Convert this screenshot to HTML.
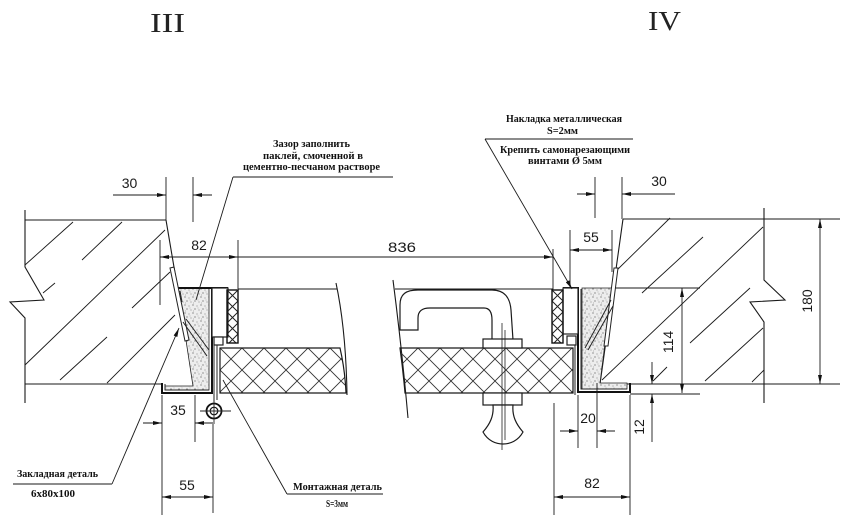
<!DOCTYPE html>
<html><head><meta charset="utf-8"><style>
html,body{margin:0;padding:0;background:#fff;}
svg{display:block;}
.d{font-family:"Liberation Sans",sans-serif;font-size:14px;fill:#1a1a1a;}
.l{font-family:"Liberation Serif","Noto Serif CJK SC",serif;font-weight:bold;font-size:10.5px;fill:#111;}
.t{font-family:"Liberation Serif",serif;font-size:27px;fill:#222;}
</style></head><body>
<svg width="844" height="523" viewBox="0 0 844 523" xmlns="http://www.w3.org/2000/svg">
<defs>
<marker id="a" viewBox="0 0 9 4" refX="9" refY="2" markerWidth="9" markerHeight="4" markerUnits="userSpaceOnUse" orient="auto-start-reverse"><path d="M0,0 L9,2 L0,4z" fill="#111"/></marker>
<pattern id="xh" x="0" y="348" width="22" height="22" patternUnits="userSpaceOnUse"><path d="M0,0 L22,22 M22,0 L0,22" stroke="#333" stroke-width="0.9" fill="none"/></pattern>
<pattern id="xs1" x="227" y="290" width="11" height="11" patternUnits="userSpaceOnUse"><path d="M0,0 L11,11 M11,0 L0,11" stroke="#222" stroke-width="1" fill="none"/></pattern>
<pattern id="xs2" x="552" y="290" width="11" height="11" patternUnits="userSpaceOnUse"><path d="M0,0 L11,11 M11,0 L0,11" stroke="#222" stroke-width="1" fill="none"/></pattern>
<pattern id="st" width="8" height="8" patternUnits="userSpaceOnUse"><rect width="8" height="8" fill="#ededed"/><circle cx="1" cy="1" r=".6" fill="#555"/><circle cx="5" cy="2" r=".5" fill="#666"/><circle cx="3" cy="5" r=".6" fill="#555"/><circle cx="7" cy="6" r=".5" fill="#666"/><circle cx="6" cy="4" r=".4" fill="#777"/><circle cx="1.5" cy="7" r=".4" fill="#666"/></pattern>
</defs>

<!-- Titles -->
<text class="t" x="150" y="32" textLength="35" lengthAdjust="spacingAndGlyphs">III</text>
<text class="t" x="648" y="30" textLength="33" lengthAdjust="spacingAndGlyphs">IV</text>

<g stroke="#1a1a1a" stroke-width="1.1" fill="none">
<!-- LEFT WALL -->
<path d="M25,220 L166,220 M166,220 L194,385 M25,384 L162,384"/>
<path d="M25,210 L25,267 L44,300 L10,302 L25,318 L25,403"/>
<g stroke-width="0.9">
<path d="M25,265 L73,222 M82,260 L122,222 M25,365 L165,230 M132,308 L170,272 M60,380 L107,337 M107,383 L175,315 M43,293 L55,283"/>
</g>
<!-- RIGHT WALL -->
<path d="M623,219 L840,219 M623,219 L600,384 M600,384 L840,384 M612,288 L700,288 M630,394 L700,394"/>
<path d="M764,208 L764,280 L785,300 L750,302 L764,322 L764,403"/>
<g stroke-width="0.9">
<path d="M615,272 L670,218 M642,293 L703,237 M602,380 L763,227 M690,343 L750,288 M705,381 L763,328 M752,382 L764,370 M653,381 L667,367"/>
</g>

<!-- upper frame lines -->
<path d="M238,289 L337,289 M395,289 L553,289"/>
<!-- break lines -->
<path d="M336,283 Q346,330 347,395"/>
<path d="M393,280 Q402,350 408,418"/>
</g>

<!-- LEFT LEAF -->
<path d="M220,348 L340,348 Q345,370 346,393 L220,393 Z" fill="url(#xh)" stroke="#1a1a1a" stroke-width="1.2"/>
<!-- RIGHT LEAF -->
<path d="M400,348 L573,348 L573,393 L405,393 Q403,370 400,348 Z" fill="url(#xh)" stroke="#1a1a1a" stroke-width="1.2"/>

<!-- Handle -->
<g stroke="#1a1a1a" stroke-width="1.2" fill="#fff">
<path d="M400,330 L400,305 C400,294 406,290 418,290 L492,290 C505,290 510,298 511,310 L513,340 L492,340 L492,320 C492,313 490,308 484,308 L430,308 C422,308 418,311 418,318 L418,330 Z"/>
<rect x="483" y="339" width="39" height="9"/>
<rect x="483" y="393" width="39" height="12"/>
<path d="M493,405 C494,416 490,424 483,432 C488,441 496,444 503,444 C510,444 518,441 523,432 C516,424 512,416 513,405 Z"/>
</g>
<path d="M502,323 L502,450 M505,330 L505,440" stroke="#222" stroke-width="0.8" fill="none"/>

<!-- LEFT FRAME -->
<path d="M178,288 L209,288 L209,390 L165,390 L165,386 L193,386 Z" fill="url(#st)" stroke="#222" stroke-width="0.8"/>
<path d="M162,383 L162,393 L212,393 L212,288 M178,288 L228,288" stroke="#111" stroke-width="2" fill="none"/>
<path d="M165,384 L165,390 L209,390" stroke="#222" stroke-width="1" fill="none"/>
<polygon points="170,268 174,267 189,340 185,341" fill="#fff" stroke="#222" stroke-width="1"/>
<path d="M180,291 L182,302 M183,322 L207,356 M186,319 L209,350" stroke="#222" stroke-width="1" fill="none"/>
<rect x="212" y="288" width="16" height="49" fill="#fff" stroke="#222" stroke-width="1.2"/>
<rect x="214" y="337" width="9" height="8" fill="#fff" stroke="#222" stroke-width="1.2"/>
<rect x="227" y="290" width="11" height="53" fill="url(#xs1)" stroke="#111" stroke-width="1.4"/>
<path d="M214,345 L214,402 M217,345 L217,400" stroke="#222" stroke-width="1" fill="none"/>
<!-- hinge -->
<circle cx="214" cy="411" r="7.5" fill="#fff" stroke="#111" stroke-width="1.8"/>
<circle cx="214" cy="411" r="3.8" fill="none" stroke="#111" stroke-width="1.2"/>
<path d="M200,411 L231,411 M214,398 L214,424" stroke="#222" stroke-width="0.9"/>

<!-- RIGHT FRAME -->
<path d="M582,288 L612,288 L600,383 L627,383 L627,389 L582,389 Z" fill="url(#st)" stroke="#222" stroke-width="0.8"/>
<path d="M563,288 L578,288 L578,392 L630,392 L630,383" stroke="#111" stroke-width="2" fill="none"/>
<path d="M581,289 L581,389 L627,389" stroke="#222" stroke-width="1" fill="none"/>
<polygon points="614,268 618,268 608,346 604,346" fill="#fff" stroke="#222" stroke-width="1"/>
<path d="M611,300 L585,348 M613,306 L588,350" stroke="#222" stroke-width="1" fill="none"/>
<rect x="563" y="288" width="15" height="46" fill="#fff" stroke="#222" stroke-width="1.2"/>
<rect x="567" y="336" width="9" height="9" fill="#fff" stroke="#222" stroke-width="1.2"/>
<rect x="552" y="290" width="11" height="53" fill="url(#xs2)" stroke="#111" stroke-width="1.4"/>
<path d="M575,345 L575,395" stroke="#222" stroke-width="1" fill="none"/>

<!-- DIMENSIONS -->
<g stroke="#1a1a1a" stroke-width="0.9" fill="none">
<!-- 30 left -->
<path d="M166,177 L166,220 M193,177 L193,222"/>
<path d="M113,195 L166,195" marker-end="url(#a)"/>
<path d="M212,195 L193,195" marker-end="url(#a)"/>
<!-- 82 / 836 -->
<path d="M160,240 L160,305 M238,240 L238,289 M553,249 L553,290"/>
<path d="M160,257 L238,257" marker-start="url(#a)" marker-end="url(#a)"/>
<path d="M238,257 L553,257" marker-end="url(#a)"/>
<!-- 55 top right -->
<path d="M570,230 L570,287 M612,230 L612,272"/>
<path d="M570,250 L612,250" marker-start="url(#a)" marker-end="url(#a)"/>
<!-- 30 right -->
<path d="M595,177 L595,218 M622,177 L622,219"/>
<path d="M577,194 L595,194" marker-end="url(#a)"/>
<path d="M675,194 L622,194" marker-end="url(#a)"/>
<!-- 180 -->
<path d="M820,219 L820,384" marker-start="url(#a)" marker-end="url(#a)"/>
<!-- 114 -->
<path d="M682,288 L682,393" marker-start="url(#a)" marker-end="url(#a)"/>
<!-- 12 -->
<path d="M652,362 L652,384" marker-end="url(#a)"/>
<path d="M652,442 L652,394" marker-end="url(#a)"/>
<!-- 20 -->
<path d="M578,395 L578,448 M597,383 L597,448"/>
<path d="M560,431 L578,431" marker-end="url(#a)"/>
<path d="M615,431 L597,431" marker-end="url(#a)"/>
<!-- 82 bottom right -->
<path d="M554,403 L554,515 M630,395 L630,515"/>
<path d="M554,497 L630,497" marker-start="url(#a)" marker-end="url(#a)"/>
<!-- 35 -->
<path d="M162,395 L162,515 M195,395 L195,442"/>
<path d="M143,423 L162,423" marker-end="url(#a)"/>
<path d="M213,423 L195,423" marker-end="url(#a)"/>
<!-- 55 bottom left -->
<path d="M213,424 L213,513"/>
<path d="M162,497 L213,497" marker-start="url(#a)" marker-end="url(#a)"/>
</g>

<!-- Dimension texts -->
<text class="d" x="129.5" y="188" text-anchor="middle">30</text>
<text class="d" x="199" y="250" text-anchor="middle">82</text>
<text class="d" x="402" y="252" text-anchor="middle" textLength="28" lengthAdjust="spacingAndGlyphs">836</text>
<text class="d" x="591" y="242" text-anchor="middle">55</text>
<text class="d" x="659" y="186" text-anchor="middle">30</text>
<text class="d" text-anchor="middle" transform="translate(812,301) rotate(-90)">180</text>
<text class="d" text-anchor="middle" transform="translate(673,342) rotate(-90)">114</text>
<text class="d" text-anchor="middle" transform="translate(644,427) rotate(-90)">12</text>
<text class="d" x="588" y="423" text-anchor="middle">20</text>
<text class="d" x="592" y="488" text-anchor="middle">82</text>
<text class="d" x="178" y="415" text-anchor="middle">35</text>
<text class="d" x="187" y="490" text-anchor="middle">55</text>

<!-- Leaders -->
<g stroke="#1a1a1a" stroke-width="0.9" fill="none">
<path d="M233,177 L393,177 M233,177 L196,300"/>
<path d="M485,139 L633,139"/>
<path d="M485,139 L572,289" marker-end="url(#a)"/>
<path d="M13,484 L112,484"/>
<path d="M112,484 L179,328" marker-end="url(#a)"/>
<path d="M287,494 L383,494 M287,494 L223,380"/>
</g>

<!-- Labels -->
<text class="l" x="273" y="147" textLength="77" lengthAdjust="spacingAndGlyphs">Зазор заполнить</text>
<text class="l" x="263" y="159" textLength="100" lengthAdjust="spacingAndGlyphs">паклей, смоченной в</text>
<text class="l" x="243" y="170" textLength="137" lengthAdjust="spacingAndGlyphs">цементно-песчаном растворе</text>
<text class="l" x="506" y="122" textLength="116" lengthAdjust="spacingAndGlyphs">Накладка металлическая</text>
<text class="l" x="547" y="134" textLength="31" lengthAdjust="spacingAndGlyphs">S=2мм</text>
<text class="l" x="500" y="153" textLength="130" lengthAdjust="spacingAndGlyphs">Крепить самонарезающими</text>
<text class="l" x="528" y="164" textLength="74" lengthAdjust="spacingAndGlyphs">винтами Ø 5мм</text>
<text class="l" x="17" y="477" textLength="81" lengthAdjust="spacingAndGlyphs">Закладная деталь</text>
<text class="l" x="31" y="497" textLength="44" lengthAdjust="spacingAndGlyphs">6x80x100</text>
<text class="l" x="293" y="490" textLength="89" lengthAdjust="spacingAndGlyphs">Монтажная деталь</text>
<text class="l" x="326" y="507" textLength="22" lengthAdjust="spacingAndGlyphs">S=3мм</text>
</svg>
</body></html>
